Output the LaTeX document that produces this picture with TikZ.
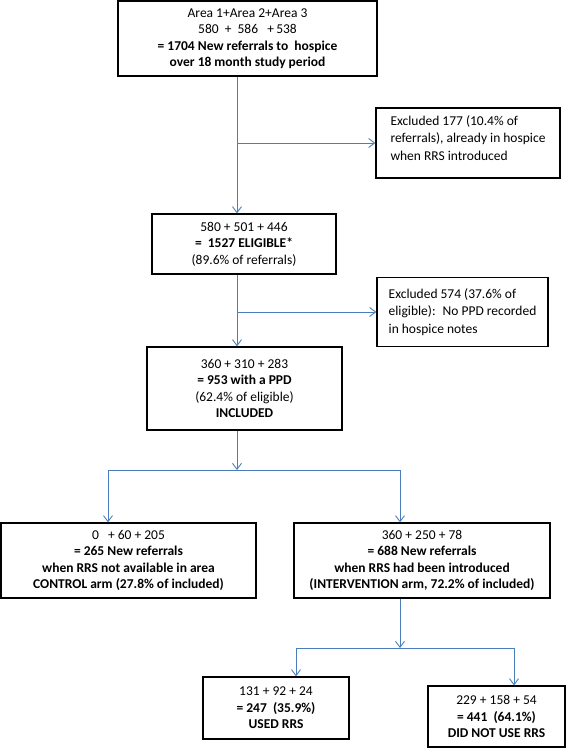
\documentclass[tikz,border=0pt]{standalone}
\usepackage{fontspec}
\setmainfont{Carlito}
\usetikzlibrary{arrows.meta,calc}
\definecolor{lineblue}{RGB}{74,126,187}
\begin{document}
\begin{tikzpicture}[x=1bp,y=-1bp,
  box/.style={draw=black, line width=1.2bp, inner sep=0pt, align=center,
    font=\fontsize{13.5bp}{16.5bp}\selectfont},
  exbox/.style={draw=black, line width=1.2bp, inner sep=0pt, align=left,
    font=\fontsize{13.5bp}{17.2bp}\selectfont},
  conn/.style={draw=lineblue, line width=0.9bp},
  arr/.style={conn, -{Straight Barb[length=6bp,width=9bp]}}]
\useasboundingbox (0,0) rectangle (567,748);

\node[box, minimum width=259bp, minimum height=75bp] (top) at (247.5,38.5)
  {Area 1+Area 2+Area 3\\580~~+~~586~~~+\,538\\\textbf{= 1704 New referrals to~ hospice}\\\textbf{over 18 month study period}};
\node[exbox, minimum width=184bp, minimum height=70bp] (ex1) at (468,143)
  {Excluded 177 (10.4\% of\\referrals), already in hospice\\when RRS introduced\\[-7bp]\mbox{}};
\node[box, minimum width=184bp, minimum height=60bp] (elig) at (244,244)
  {580~+~501~+~446\\\textbf{=~~1527 ELIGIBLE*}\\(89.6\% of referrals)};
\node[exbox, minimum width=171bp, minimum height=69bp] (ex2) at (462.5,312)
  {Excluded 574 (37.6\% of\\eligible):~ No PPD recorded\\in hospice notes};
\node[box, minimum width=195bp, minimum height=83bp] (incl) at (244.5,388.5)
  {360~+~310~+~283\\\textbf{= 953 with a PPD}\\(62.4\% of eligible)\\\textbf{INCLUDED}};
\node[box, minimum width=255bp, minimum height=75bp] (ctrl) at (128.5,560.5)
  {0~~~+~60~+~205\\\textbf{= 265 New referrals}\\\textbf{when RRS not available in area}\\\textbf{CONTROL arm (27.8\% of included)}};
\node[box, minimum width=256bp, minimum height=75bp] (intv) at (422,560.5)
  {360~+~250~+~78\\\textbf{= 688 New referrals}\\\textbf{when RRS had been introduced}\\\textbf{(INTERVENTION arm, 72.2\% of included)}};
\node[box, minimum width=146bp, minimum height=62bp] (used) at (276,708)
  {131~+~92~+~24\\\textbf{= 247~ (35.9\%)}\\\textbf{USED RRS}};
\node[box, minimum width=137bp, minimum height=61bp] (dnu) at (496.5,716.5)
  {229~+~158~+~54\\\textbf{= 441~ (64.1\%)}\\\textbf{DID NOT USE RRS}};

\coordinate (sp) at (237,0);
\coordinate (jl) at (108,470);
\coordinate (jr) at (400,470);
\coordinate (kl) at (296,648);
\coordinate (kr) at (514,648);

\draw[arr] (top.south -| sp) -- (elig.north -| sp);
\draw[arr] (sp |- ex1.west) -- (ex1.west);
\draw[arr] (elig.south -| sp) -- (incl.north -| sp);
\draw[arr] (sp |- ex2.west) -- (ex2.west);
\draw[arr] (incl.south -| sp) -- (sp |- jl);
\draw[conn] (jl) -- (jr);
\draw[arr] (jl) -- (jl |- ctrl.north);
\draw[arr] (jr) -- (jr |- intv.north);
\draw[arr] (intv.south -| jr) -- (jr |- kl);
\draw[conn] (kl) -- (kr);
\draw[arr] (kl) -- (kl |- used.north);
\draw[arr] (kr) -- (kr |- dnu.north);
\end{tikzpicture}
\end{document}
